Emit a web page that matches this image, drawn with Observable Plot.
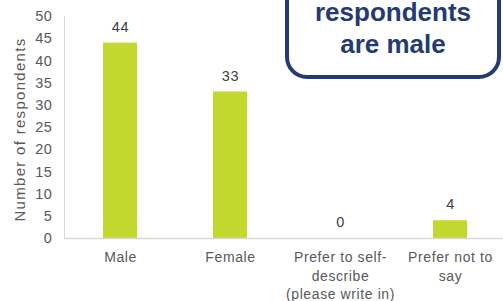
<!DOCTYPE html>
<html><head><meta charset="utf-8">
<script src="https://cdn.jsdelivr.net/npm/d3@7"></script>
<script src="https://cdn.jsdelivr.net/npm/@observablehq/plot@0.6"></script>
<style>
html,body{margin:0;padding:0;background:#fff;}
#chart{position:relative;width:503px;height:301px;overflow:hidden;font-family:"Liberation Sans",Arial,sans-serif;}
#chart svg text{letter-spacing:0.6px;}
</style></head>
<body><div id="chart"></div>
<script>
const categories = ["Male", "Female", "Prefer to self-describe (please write in)", "Prefer not to say"];
const tickLabels = ["Male", "Female", "Prefer to self-\ndescribe\n(please write in)", "Prefer not to\nsay"];
const values = [44, 33, 0, 4];
const yTicks = [0, 5, 10, 15, 20, 25, 30, 35, 40, 45, 50];
const yLabel = "Number of respondents";
const calloutLines = ["respondents", "are male"];

const data = categories.map((c, i) => ({category: c, value: values[i]}));

const plot = Plot.plot({
  width: 503, height: 301,
  marginLeft: 64, marginRight: -3, marginTop: 16, marginBottom: 63,
  style: {fontFamily: '"Liberation Sans", Arial, sans-serif', background: "#fff"},
  x: {domain: categories, paddingInner: 0.69, paddingOuter: 0.345, label: null},
  y: {domain: [0, 50], ticks: yTicks, label: null},
  marks: [
    Plot.frame({anchor: "left", stroke: "#d9d9d9", strokeWidth: 1}),
    Plot.barY(data, {x: "category", y: "value", fill: "#c3d82f"}),
    Plot.ruleY([0], {stroke: "#d9d9d9", strokeWidth: 1.5}),
    Plot.text(data, {x: "category", y: "value", text: d => String(d.value), dy: -16, fill: "#404040", fontSize: 14.5}),
    Plot.axisY({ticks: yTicks, tickSize: 0, tickPadding: 12, fontSize: 14.5, fill: "#595959", label: null}),
    Plot.axisX({tickSize: 0, tickPadding: 11, fontSize: 14, fill: "#595959", lineHeight: 1.3, label: null,
      tickFormat: d => tickLabels[categories.indexOf(d)]}),
    Plot.text([yLabel], {frameAnchor: "left", dx: -44, dy: 2, rotate: -90, textAnchor: "middle", fontSize: 15, fill: "#595959"})
  ]
});
document.getElementById("chart").appendChild(plot);

const svg = d3.select(plot);
svg.selectAll("text").filter(function(){ return this.textContent === yLabel; }).style("letter-spacing", "1.3px");

// callout box
const g = svg.append("g");
g.append("rect").attr("x", 287).attr("y", -40).attr("width", 212).attr("height", 117)
  .attr("rx", 20).attr("fill", "#fff").attr("stroke", "#243a74").attr("stroke-width", 4);
g.selectAll("text.call").data(calloutLines).join("text")
  .attr("x", 393).attr("y", (d, i) => 21 + i * 32)
  .attr("text-anchor", "middle").attr("fill", "#243a74")
  .attr("font-size", 26).attr("font-weight", "bold")
  .style("letter-spacing", "0px")
  .attr("font-family", '"Liberation Sans", Arial, sans-serif')
  .text(d => d);
</script>
</body></html>
